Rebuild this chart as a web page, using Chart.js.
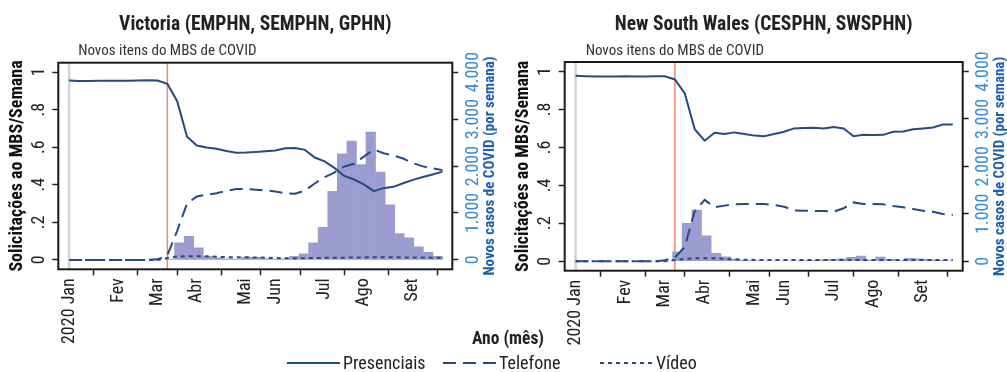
<!DOCTYPE html>
<html>
<head>
<meta charset="utf-8">
<script src="https://cdn.jsdelivr.net/npm/chart.js@4.4.1/dist/chart.umd.min.js"></script>
<style>
body { margin: 0; background: #fff; }
#wrap { position: relative; width: 1007px; height: 372px; overflow: hidden; }
.panel { position: absolute; top: 0; height: 345px; }
#p1 { left: 0; width: 504px; }
#p2 { left: 504px; width: 503px; }
#legend { position: absolute; left: 0; top: 0; }
</style>
</head>
<body>
<div id="wrap">
	<div class="panel" id="p1"><canvas id="vic"></canvas></div>
	<div class="panel" id="p2"><canvas id="nsw"></canvas></div>
	<svg id="legend" width="1007" height="372"></svg>
</div>
<script>
// weekly series, week 0 = first week of Jan 2020
var weeks = [0,1,2,3,4,5,6,7,8,9,10,11,12,13,14,15,16,17,18,19,20,21,22,23,24,25,26,27,28,29,30,31,32,33,34,35,36,37,38];

var vicPresencial = [.955,.953,.953,.954,.954,.954,.954,.955,.956,.955,.938,.845,.656,.609,.598,.592,.580,.571,.572,.575,.578,.582,.594,.596,.586,.545,.525,.490,.447,.428,.402,.366,.382,.389,.408,.426,.441,.455,.470];
var vicTelefone = [0,0,0,0,0,0,0,0,0,.003,.025,.155,.30,.338,.347,.355,.368,.378,.377,.374,.370,.364,.355,.352,.369,.407,.44,.465,.497,.512,.55,.588,.568,.556,.54,.515,.498,.488,.478];
var vicVideo = [0,0,0,0,0,0,0,0,0,0,.01,.018,.02,.02,.019,.017,.015,.014,.014,.013,.012,.01,.009,.008,.009,.01,.011,.012,.012,.013,.013,.014,.014,.014,.013,.013,.013,.012,.012];

var nswPresencial = [.977,.975,.973,.973,.974,.975,.974,.973,.975,.975,.958,.884,.696,.635,.677,.670,.679,.671,.662,.659,.670,.682,.700,.702,.703,.700,.708,.700,.659,.666,.665,.666,.682,.684,.695,.700,.705,.721,.721];
var nswTelefone = [0,0,0,0,0,0,0,0,0,.005,.02,.075,.265,.323,.285,.293,.300,.302,.302,.302,.296,.287,.268,.266,.265,.265,.261,.279,.310,.302,.302,.300,.291,.284,.275,.266,.261,.249,.244];
var nswVideo = [0,0,0,0,0,0,0,0,0,0,.006,.012,.016,.016,.015,.013,.01,.008,.007,.006,.006,.006,.006,.006,.006,.006,.006,.006,.006,.006,.006,.006,.006,.006,.006,.006,.006,.006,.006];

// new COVID cases per week (right axis)
var caseWeeks = [10.25,11.22,12.2,13.17,14.15,15.12,16.09,17.07,18.04,19.02,19.99,20.96,21.94,22.91,23.89,24.86,25.83,26.81,27.78,28.76,29.73,30.7,31.68,32.65,33.63,34.6,35.57,36.55,37.52];
var vicCases = [15,362,504,256,77,43,21,15,60,55,30,15,25,75,128,362,695,1463,2260,2529,2032,2721,1868,1172,561,469,277,162,77];
var nswCases = [200,800,1080,535,168,90,45,20,15,10,10,10,10,15,20,30,40,50,84,110,25,85,42,15,63,48,42,20,10];

var monthWeeks = [0,5,9,13,18,21,26,30,35];
var monthLabels = ['2020 Jan','Fev','Mar','Abr','Mai','Jun','Jul','Ago','Set'];
var shareTicks = [0,0.2,0.4,0.6,0.8,1];
var caseTicks = [0,1000,2000,3000,4000];
var mbsWeek = 10;

var seriesNames = ['Presenciais','Telefone','Vídeo'];
var seriesDash = [[],[13,7],[4,4]];

var FONT = "'Liberation Sans Narrow', 'Roboto Condensed', 'DejaVu Sans Condensed', sans-serif";
var LINE = '#284a7e';
var BAR = '#9c9cd0';
var TEXT = '#222';

Chart.defaults.font.family = FONT;
Chart.defaults.color = TEXT;

function toPoints(xs, ys) {
	return xs.map(function(x, i){ return {x: x, y: ys[i]}; });
}

function shareLabel(v) {
	if (v === 0 || v === 1) return String(v);
	return v.toFixed(1).replace(/^0/, '');
}

function caseLabel(v) {
	return String(v).replace(/\B(?=(\d{3})+(?!\d))/g, '.');
}

var panelDecor = {
	id: 'panelDecor',
	beforeDatasetsDraw: function(chart) {
		var ctx = chart.ctx, a = chart.chartArea, xs = chart.scales.x;
		ctx.save();
		var gx = xs.getPixelForValue(weeks[0]);
		ctx.strokeStyle = '#d2d2d2';
		ctx.lineWidth = 2.5;
		ctx.beginPath(); ctx.moveTo(gx, a.top); ctx.lineTo(gx, a.bottom); ctx.stroke();
		var rx = xs.getPixelForValue(mbsWeek);
		ctx.strokeStyle = '#f2876b';
		ctx.lineWidth = 1.5;
		ctx.beginPath(); ctx.moveTo(rx, a.top); ctx.lineTo(rx, a.bottom); ctx.stroke();
		ctx.restore();
	},
	afterDraw: function(chart, args, opts) {
		var ctx = chart.ctx, a = chart.chartArea, xs = chart.scales.x;
		var mid = (a.top + a.bottom) / 2;
		ctx.save();
		// frame
		ctx.strokeStyle = '#1a1a1a';
		ctx.lineWidth = 2;
		ctx.strokeRect(a.left, a.top, a.right - a.left, a.bottom - a.top);

		ctx.fillStyle = TEXT;
		ctx.textAlign = 'center';
		ctx.textBaseline = 'alphabetic';
		ctx.font = 'bold 19.5px ' + FONT;
		ctx.fillText(opts.title, (a.left + a.right) / 2, 29.5);

		ctx.font = '15px ' + FONT;
		ctx.fillStyle = '#333';
		ctx.fillText('Novos itens do MBS de COVID', xs.getPixelForValue(mbsWeek), 55);

		ctx.textBaseline = 'middle';
		ctx.save();
		ctx.translate(a.left - 41, mid);
		ctx.rotate(-Math.PI / 2);
		ctx.font = 'bold 18px ' + FONT;
		ctx.fillStyle = '#111';
		ctx.fillText('Solicitações ao MBS/Semana', 0, 0);
		ctx.restore();

		ctx.save();
		ctx.translate(a.right + 38, mid);
		ctx.rotate(-Math.PI / 2);
		ctx.font = 'bold 15px ' + FONT;
		ctx.fillStyle = '#1f5fae';
		ctx.fillText('Novos casos de COVID (por semana)', 0, 0);
		ctx.restore();
		ctx.restore();
	}
};

function drawPanel(id, title, pres, tel, vid, cases, box) {
	var ctx = document.getElementById(id);
	var lines = [pres, tel, vid].map(function(vals, i) {
		return {
			label: seriesNames[i],
			data: toPoints(weeks, vals),
			borderColor: LINE,
			borderWidth: 2,
			borderDash: seriesDash[i],
			pointRadius: 0,
			tension: 0,
			order: 1
		};
	});
	lines.push({
		type: 'bar',
		label: 'Novos casos de COVID',
		data: toPoints(caseWeeks, cases),
		yAxisID: 'y2',
		backgroundColor: BAR,
		borderWidth: 0,
		barPercentage: 1,
		categoryPercentage: 1,
		order: 5
	});

	return new Chart(ctx, {
		type: 'line',
		data: { datasets: lines },
		plugins: [panelDecor],
		options: {
			responsive: true,
			maintainAspectRatio: false,
			animation: false,
			layout: { padding: { top: box.top, left: 0, right: 0, bottom: 0 } },
			plugins: {
				legend: { display: false },
				tooltip: { enabled: false },
				panelDecor: { title: title }
			},
			scales: {
				x: {
					type: 'linear',
					min: -1.1,
					max: 39,
					offset: false,
					afterBuildTicks: function(scale) {
						scale.ticks = monthWeeks.map(function(v){ return {value: v}; });
					},
					afterFit: function(scale) { scale.height = box.bottom; },
					grid: { drawOnChartArea: false, drawTicks: true, tickLength: 6, tickColor: '#222', tickWidth: 1.5 },
					border: { display: false },
					ticks: {
						autoSkip: false,
						minRotation: 90,
						maxRotation: 90,
						padding: 3,
						color: TEXT,
						font: { size: 18 },
						callback: function(v) {
							var i = monthWeeks.indexOf(v);
							return i < 0 ? '' : monthLabels[i];
						}
					}
				},
				y: {
					position: 'left',
					min: -0.05,
					max: 1.05,
					afterBuildTicks: function(scale) {
						scale.ticks = shareTicks.map(function(v){ return {value: v}; });
					},
					afterFit: function(scale) { scale.width = box.left; },
					grid: { drawOnChartArea: false, drawTicks: true, tickLength: 6, tickColor: '#222', tickWidth: 1.5 },
					border: { display: false },
					ticks: {
						minRotation: 90,
						maxRotation: 90,
						crossAlign: 'center',
						padding: 6,
						color: TEXT,
						font: { size: 18 },
						callback: function(v) { return shareLabel(v); }
					}
				},
				y2: {
					position: 'right',
					min: -200,
					max: 4200,
					afterBuildTicks: function(scale) {
						scale.ticks = caseTicks.map(function(v){ return {value: v}; });
					},
					afterFit: function(scale) { scale.width = box.right; },
					grid: { drawOnChartArea: false, drawTicks: true, tickLength: 6, tickColor: '#222', tickWidth: 1.5 },
					border: { display: false },
					ticks: {
						minRotation: 90,
						maxRotation: 90,
						crossAlign: 'center',
						padding: -5,
						color: '#3a8ad6',
						font: { size: 18 },
						callback: function(v) { return caseLabel(v); }
					}
				}
			}
		}
	});
}

drawPanel('vic', 'Victoria (EMPHN, SEMPHN, GPHN)', vicPresencial, vicTelefone, vicVideo, vicCases,
	{ top: 62.7, left: 58.3, right: 51.7, bottom: 75.7 });
drawPanel('nsw', 'New South Wales (CESPHN, SWSPHN)', nswPresencial, nswTelefone, nswVideo, nswCases,
	{ top: 62, left: 60.7, right: 44.3, bottom: 74.3 });

// shared x title and legend
var svg = document.getElementById('legend');
var NS = 'http://www.w3.org/2000/svg';
function svgEl(tag, attrs, text) {
	var el = document.createElementNS(NS, tag);
	for (var k in attrs) el.setAttribute(k, attrs[k]);
	if (text) el.textContent = text;
	svg.appendChild(el);
	return el;
}
svgEl('text', { x: 508, y: 344, 'text-anchor': 'middle', 'font-family': FONT, 'font-weight': 'bold', 'font-size': 17.5, fill: TEXT }, 'Ano (mês)');
var legendX = [287, 443, 600];
seriesNames.forEach(function(name, i) {
	var x0 = legendX[i];
	svgEl('line', { x1: x0, y1: 363, x2: x0 + 53, y2: 363, stroke: LINE, 'stroke-width': 2, 'stroke-dasharray': seriesDash[i].join(' ') || 'none' });
	svgEl('text', { x: x0 + 56, y: 368.5, 'font-family': FONT, 'font-size': 18, fill: TEXT }, name);
});
</script>
</body>
</html>
